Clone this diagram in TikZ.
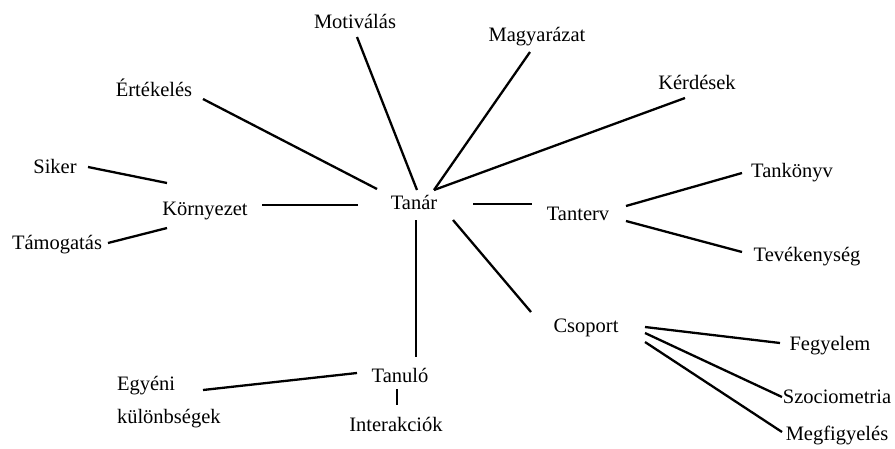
\documentclass[tikz,border=0pt]{standalone}
\usepackage{fontspec}
\setmainfont{Liberation Serif}
\usetikzlibrary{calc}
\begin{document}
\begin{tikzpicture}[x=1pt,y=-1pt,
  lbl/.style={inner sep=0pt,outer sep=0pt,anchor=base,font=\fontsize{20.5}{33}\selectfont},
  conn/.style={line width=2.3pt}]
\useasboundingbox (0,0) rectangle (895,448);
% nodes
\node[lbl] (tanar) at (414,209) {Tanár};
\node[lbl] (motivalas) at (355,28) {Motiválás};
\node[lbl] (magyarazat) at (537,41) {Magyarázat};
\node[lbl] (kerdesek) at (697,89) {Kérdések};
\node[lbl] (ertekeles) at (154,96) {Értékelés};
\node[lbl] (siker) at (55,173) {Siker};
\node[lbl] (kornyezet) at (205,215) {Környezet};
\node[lbl] (tamogatas) at (57,249) {Támogatás};
\node[lbl] (tanterv) at (578,220) {Tanterv};
\node[lbl] (tankonyv) at (792,177) {Tankönyv};
\node[lbl] (tevekenyseg) at (807,261) {Tevékenység};
\node[lbl] (csoport) at (586,332) {Csoport};
\node[lbl] (fegyelem) at (830,350) {Fegyelem};
\node[lbl] (szociometria) at (837,403) {Szociometria};
\node[lbl] (megfigyeles) at (837,440) {Megfigyelés};
\node[lbl] (tanulo) at (400,382) {Tanuló};
\node[lbl] (interakciok) at (396,431) {Interakciók};
\node[lbl,anchor=base west,align=left] (egyeni) at (117,423) {Egyéni\\különbségek};
% connectors
\draw[conn] ($(tanar.base)+(-37,-20)$) -- ($(ertekeles.base)+(49,3)$);
\draw[conn] ($(tanar.base)+(3,-19)$) -- ($(motivalas.base)+(2,9)$);
\draw[conn] ($(tanar.base)+(20,-19)$) -- ($(magyarazat.base)+(-7,11)$);
\draw[conn] ($(tanar.base)+(20,-19)$) -- ($(kerdesek.base)+(-12,9)$);
\draw[conn] ($(tanar.base)+(-56,-4)$) -- ($(kornyezet.base)+(57,-10)$);
\draw[conn] ($(tanar.base)+(59,-5)$) -- ($(tanterv.base)+(-46,-16)$);
\draw[conn] ($(tanar.base)+(39,11)$) -- ($(csoport.base)+(-55,-20)$);
\draw[conn] ($(tanar.base)+(2,11)$) -- ($(tanulo.base)+(16,-25)$);
\draw[conn] ($(kornyezet.base)+(-38,-32)$) -- ($(siker.base)+(33,-6)$);
\draw[conn] ($(kornyezet.base)+(-38,13)$) -- ($(tamogatas.base)+(51,-6)$);
\draw[conn] ($(tanterv.base)+(48,-14)$) -- ($(tankonyv.base)+(-50,-4)$);
\draw[conn] ($(tanterv.base)+(48,1)$) -- ($(tevekenyseg.base)+(-65,-9)$);
\draw[conn] ($(csoport.base)+(59,-5)$) -- ($(fegyelem.base)+(-50,-7)$);
\draw[conn] ($(csoport.base)+(59,1)$) -- ($(szociometria.base)+(-55,-6)$);
\draw[conn] ($(csoport.base)+(59,10)$) -- ($(megfigyeles.base)+(-55,-8)$);
\draw[conn] ($(tanulo.base)+(-43,-9)$) -- ($(egyeni.base west)+(86,-33)$);
\draw[conn] ($(tanulo.base)+(-3,7)$) -- ($(interakciok.base)+(1,-26)$);
\end{tikzpicture}
\end{document}
